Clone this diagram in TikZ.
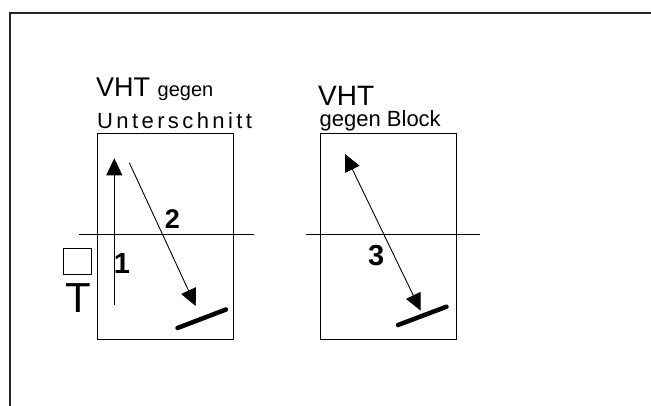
\documentclass[tikz,border=0pt]{standalone}
\usepackage{fontspec}
\setmainfont{Liberation Sans}
\usetikzlibrary{arrows.meta}
\newcommand\lsk{\kern3.4pt}
\begin{document}
\begin{tikzpicture}[x=1pt,y=-1pt,
  thinline/.style={line width=0.9pt,draw=black},
  boxshape/.style={draw=black,line width=1pt},
  bar/.style={line width=4.5pt,line cap=round},
  head/.style={-{Triangle[length=17pt,width=16pt]}},
  dhead/.style={{Triangle[length=17pt,width=16pt]}-{Triangle[length=17pt,width=16pt]}},
  lbl/.style={inner sep=0pt,anchor=base west},
  num/.style={inner sep=0pt,font=\bfseries\fontsize{29}{33}\selectfont}]
\useasboundingbox (0,0) rectangle (651,405);
% outer frame (open at right and bottom)
\draw[line width=1.3pt,draw=black!85] (10,420) -- (10,13) -- (670,13);
% boxes
\draw[boxshape] (97.5,133.5) rectangle (233.5,339);
\draw[boxshape] (320.5,133.5) rectangle (456,339);
% horizontal lines
\coordinate (hl1) at (79,234.7); \coordinate (hr1) at (254,234.7);
\coordinate (hl2) at (305.7,234.7); \coordinate (hr2) at (480,234.7);
\draw[thinline] (hl1) -- (hr1);
\draw[thinline] (hl2) -- (hr2);
% arrows
\coordinate (a1s) at (114.3,305); \coordinate (a1e) at (114.3,158.3);
\coordinate (a2s) at (129.3,162.7); \coordinate (a2e) at (195.7,306);
\coordinate (a3s) at (345,154); \coordinate (a3e) at (420.7,310.7);
\draw[thinline,line width=1.1pt,head] (a1s) -- (a1e);
\draw[thinline,head] (a2s) -- (a2e);
\draw[thinline,dhead] (a3s) -- (a3e);
% bars
\coordinate (b1s) at (177.5,328); \coordinate (b1e) at (226,309.5);
\coordinate (b2s) at (398,325); \coordinate (b2e) at (446.5,306.7);
\draw[bar] (b1s) -- (b1e);
\draw[bar] (b2s) -- (b2e);
% small square and T
\node[draw=black,line width=1pt,minimum width=28.5pt,minimum height=26pt,inner sep=0pt] (sq) at (77.5,261.3) {};
\node[inner sep=0pt,anchor=base,font=\fontsize{42}{46}\selectfont] (T) at (78.3,312.7) {T};
% numbers
\node[num,anchor=base] (n1) at (122,273.3) {1};
\node[num,anchor=base,font=\bfseries\fontsize{27}{31}\selectfont] (n2) at (172.3,228.3) {2};
\node[num,anchor=base] (n3) at (376.3,265) {3};
% titles
\node[lbl,font=\fontsize{27}{31}\selectfont] (t1) at (96,96.7) {VHT};
\node[lbl,font=\fontsize{20}{24}\selectfont] (t2) at (157.5,96.7) {gegen};
\node[lbl,font=\fontsize{22}{26}\selectfont] (t3) at (97,128.3) {U\lsk n\lsk t\lsk e\lsk r\lsk s\lsk c\lsk h\lsk n\lsk i\lsk t\lsk t};
\node[lbl,font=\fontsize{28}{32}\selectfont] (t4) at (318,105) {VHT};
\node[lbl,font=\fontsize{22}{26}\selectfont] (t5) at (319.5,126.7) {gegen Block};
\end{tikzpicture}
\end{document}
